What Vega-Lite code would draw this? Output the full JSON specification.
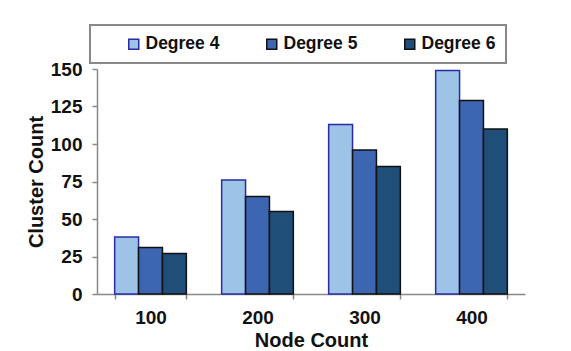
{
  "$schema": "https://vega.github.io/schema/vega-lite/v6.json",
  "width": 428,
  "height": 225,
  "autosize": {"type": "none"},
  "padding": {"left": 97, "top": 69, "right": 46, "bottom": 57},
  "background": "white",
  "data": {
    "values": [
      {"nodes": "100", "series": "Degree 4", "count": 38},
      {"nodes": "100", "series": "Degree 5", "count": 31},
      {"nodes": "100", "series": "Degree 6", "count": 27},
      {"nodes": "200", "series": "Degree 4", "count": 76},
      {"nodes": "200", "series": "Degree 5", "count": 65},
      {"nodes": "200", "series": "Degree 6", "count": 55},
      {"nodes": "300", "series": "Degree 4", "count": 113},
      {"nodes": "300", "series": "Degree 5", "count": 96},
      {"nodes": "300", "series": "Degree 6", "count": 85},
      {"nodes": "400", "series": "Degree 4", "count": 149},
      {"nodes": "400", "series": "Degree 5", "count": 129},
      {"nodes": "400", "series": "Degree 6", "count": 110}
    ]
  },
  "mark": {"type": "bar", "strokeWidth": 1.5},
  "encoding": {
    "x": {
      "field": "nodes",
      "type": "ordinal",
      "title": "Node Count",
      "scale": {"paddingInner": 0.33, "paddingOuter": 0.165},
      "axis": {"tickBand": "extent", "labelAngle": 0, "labelPadding": 9, "titlePadding": 3}
    },
    "xOffset": {"field": "series", "type": "nominal", "scale": {"paddingInner": 0, "paddingOuter": 0}},
    "y": {
      "field": "count",
      "type": "quantitative",
      "title": "Cluster Count",
      "scale": {"domain": [0, 150], "nice": false},
      "axis": {"values": [0, 25, 50, 75, 100, 125, 150], "grid": false, "labelPadding": 10, "titlePadding": 4}
    },
    "fill": {
      "field": "series",
      "type": "nominal",
      "title": " ",
      "scale": {"domain": ["Degree 4", "Degree 5", "Degree 6"], "range": ["#9DC3E6", "#3D66B2", "#1F4E79"]},
      "legend": {
        "orient": "none", "legendX": -7, "legendY": -44, "direction": "horizontal",
        "labelExpr": "datum.label == 'Degree 6' ? datum.label + '     ' : datum.label"
      }
    },
    "stroke": {
      "field": "series",
      "type": "nominal",
      "title": " ",
      "scale": {"domain": ["Degree 4", "Degree 5", "Degree 6"], "range": ["#2B2BA8", "#111111", "#111111"]},
      "legend": {
        "orient": "none", "legendX": -7, "legendY": -44, "direction": "horizontal",
        "labelExpr": "datum.label == 'Degree 6' ? datum.label + '     ' : datum.label"
      }
    }
  },
  "config": {
    "view": {"stroke": null},
    "axis": {
      "domainColor": "#888888",
      "domainWidth": 1.5,
      "tickColor": "#888888",
      "tickWidth": 1.5,
      "tickSize": 5,
      "labelFont": "Liberation Sans",
      "labelFontWeight": "bold",
      "labelFontSize": 19,
      "labelColor": "#111111",
      "titleFont": "Liberation Sans",
      "titleFontWeight": "bold",
      "titleFontSize": 20,
      "titleColor": "#111111"
    },
    "legend": {
      "symbolType": "square",
      "symbolSize": 100,
      "symbolStrokeWidth": 1.5,
      "labelFont": "Liberation Sans",
      "labelFontWeight": "bold",
      "labelFontSize": 17.5,
      "labelColor": "#111111",
      "labelOffset": 3,
      "columnPadding": 43,
      "padding": 10,
      "titleOrient": "left",
      "titleFontSize": 17,
      "titlePadding": 25,
      "strokeColor": "#888888",
      "strokeWidth": 2,
      "fillColor": "white"
    }
  }
}
